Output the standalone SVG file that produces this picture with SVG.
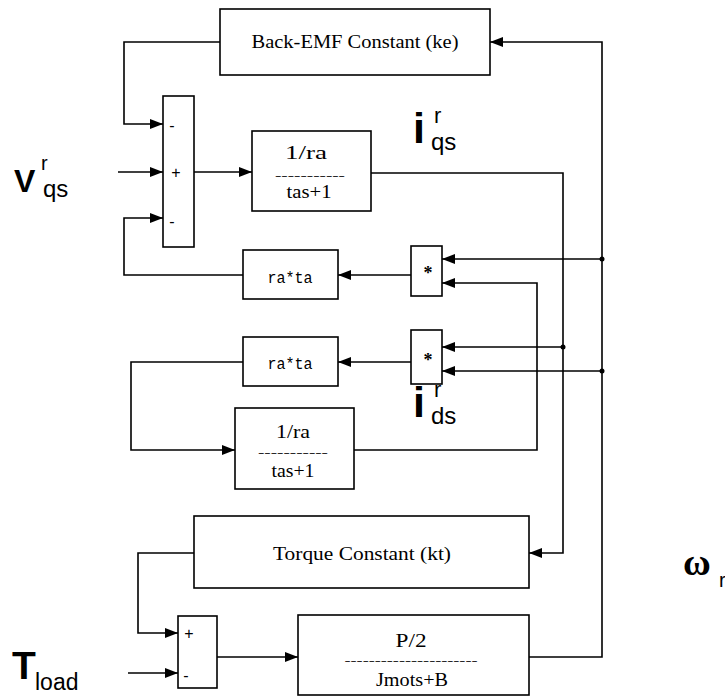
<svg xmlns="http://www.w3.org/2000/svg" width="725" height="698" viewBox="0 0 725 698">
<defs>
<marker id="arr" markerUnits="userSpaceOnUse" markerWidth="13" markerHeight="10" viewBox="0 0 13 10" refX="13" refY="5" orient="auto">
<path d="M0,0 L13,5 L0,10 z" fill="#000"/>
</marker>
</defs>
<style>
.box{fill:#fff;stroke:#000;stroke-width:1.6}
.w{fill:none;stroke:#000;stroke-width:1.6}
.a{marker-end:url(#arr)}
.sf{font-family:"Liberation Serif",serif;font-size:18px;text-anchor:middle;fill:#000}
.dash{font-family:"Liberation Serif",serif;font-size:10px;text-anchor:middle;fill:#000}
.mono{font-family:"Liberation Mono",monospace;font-size:16px;text-anchor:middle;fill:#000}
.sign{font-family:"Liberation Sans",sans-serif;font-size:16px;text-anchor:middle;fill:#000}
.lab{font-family:"Liberation Sans",Arial,sans-serif;fill:#000}
.dot{fill:#000}
</style>
<rect width="725" height="698" fill="#fff"/>

<g id="connectors">
<polyline class="w a" points="220,42 124,42 124,124 163,124"/>
<polyline class="w a" points="118,172 163,172"/>
<polyline class="w a" points="243,275 124,275 124,218 163,218"/>
<polyline class="w a" points="194,172 252,172"/>
<polyline class="w a" points="371,173 563,173 563,553 529,553"/>
<polyline class="w a" points="563,347 442,347"/>
<polyline class="w a" points="354,450 537,450 537,283 442,283"/>
<polyline class="w a" points="529,657 602,657 602,42 490,42"/>
<polyline class="w a" points="602,259 442,259"/>
<polyline class="w a" points="602,371 442,371"/>
<polyline class="w a" points="411,275 338,275"/>
<polyline class="w a" points="411,362 338,362"/>
<polyline class="w a" points="243,362 131,362 131,450 235,450"/>
<polyline class="w a" points="194,553 138,553 138,633 178,633"/>
<polyline class="w a" points="128,673 178,673"/>
<polyline class="w a" points="217,657 298,657"/>
<circle class="dot" cx="602" cy="259" r="2.5"/>
<circle class="dot" cx="602" cy="371" r="2.5"/>
<circle class="dot" cx="563" cy="347" r="2.5"/>
</g>

<g id="backemf">
<rect class="box" x="220" y="9" width="270" height="66"/>
<text class="sf" x="355" y="48" textLength="207" lengthAdjust="spacingAndGlyphs">Back-EMF Constant (ke)</text>
</g>

<g id="sum1">
<rect class="box" x="163" y="96" width="31" height="151"/>
<text class="sign" x="172" y="131">-</text>
<text class="sign" x="176" y="178">+</text>
<text class="sign" x="172" y="227">-</text>
</g>

<g id="tf1">
<rect class="box" x="252" y="131" width="119" height="80"/>
<text class="sf" x="306" y="159" textLength="42" lengthAdjust="spacingAndGlyphs">1/ra</text>
<text class="dash" x="310" y="179" textLength="70" lengthAdjust="spacingAndGlyphs">-----------</text>
<text class="sf" x="309" y="198" textLength="45" lengthAdjust="spacingAndGlyphs">tas+1</text>
</g>

<g id="rata1">
<rect class="box" x="243" y="250" width="95" height="49"/>
<text class="mono" x="290" y="283" textLength="45" lengthAdjust="spacingAndGlyphs">ra*ta</text>
</g>

<g id="mult1">
<rect class="box" x="411" y="246" width="31" height="50"/>
<text class="sf" x="428" y="279" font-weight="bold">*</text>
</g>

<g id="rata2">
<rect class="box" x="243" y="337" width="95" height="49"/>
<text class="mono" x="290" y="369" textLength="45" lengthAdjust="spacingAndGlyphs">ra*ta</text>
</g>

<g id="mult2">
<rect class="box" x="411" y="330" width="31" height="54"/>
<text class="sf" x="428" y="366" font-weight="bold">*</text>
</g>

<g id="tf2">
<rect class="box" x="235" y="408" width="119" height="81"/>
<text class="sf" x="293" y="438" textLength="34" lengthAdjust="spacingAndGlyphs">1/ra</text>
<text class="dash" x="293" y="456" textLength="70" lengthAdjust="spacingAndGlyphs">-----------</text>
<text class="sf" x="293" y="477" textLength="43" lengthAdjust="spacingAndGlyphs">tas+1</text>
</g>

<g id="torque">
<rect class="box" x="194" y="516" width="335" height="72"/>
<text class="sf" x="362" y="560" textLength="178" lengthAdjust="spacingAndGlyphs">Torque Constant (kt)</text>
</g>

<g id="sum2">
<rect class="box" x="178" y="616" width="39" height="72"/>
<text class="sign" x="189" y="639">+</text>
<text class="sign" x="186" y="681">-</text>
</g>

<g id="mech">
<rect class="box" x="298" y="615" width="231" height="80"/>
<text class="sf" x="411" y="647" textLength="31" lengthAdjust="spacingAndGlyphs">P/2</text>
<text class="dash" x="411" y="664" textLength="133" lengthAdjust="spacingAndGlyphs">----------------------</text>
<text class="sf" x="412" y="686" textLength="72" lengthAdjust="spacingAndGlyphs">Jmots+B</text>
</g>

<g id="labels">
<text class="lab" x="14" y="192" font-size="32" font-weight="bold">V</text>
<text class="lab" x="41" y="170" font-size="20">r</text>
<text class="lab" x="43" y="197" font-size="24">qs</text>

<text class="lab" x="413" y="143" font-size="43" font-weight="bold">i</text>
<text class="lab" x="434" y="123" font-size="22">r</text>
<text class="lab" x="431" y="150" font-size="24">qs</text>

<text class="lab" x="413" y="417" font-size="43" font-weight="bold">i</text>
<text class="lab" x="434" y="397" font-size="22">r</text>
<text class="lab" x="431" y="424" font-size="24">ds</text>

<text x="683" y="575" font-family="Liberation Serif,serif" font-size="38" font-weight="bold">ω</text>
<text class="lab" x="719" y="587" font-size="20">r</text>

<text class="lab" x="12" y="679" font-size="39" font-weight="bold">T</text>
<text class="lab" x="35" y="690" font-size="23">load</text>
</g>
</svg>
